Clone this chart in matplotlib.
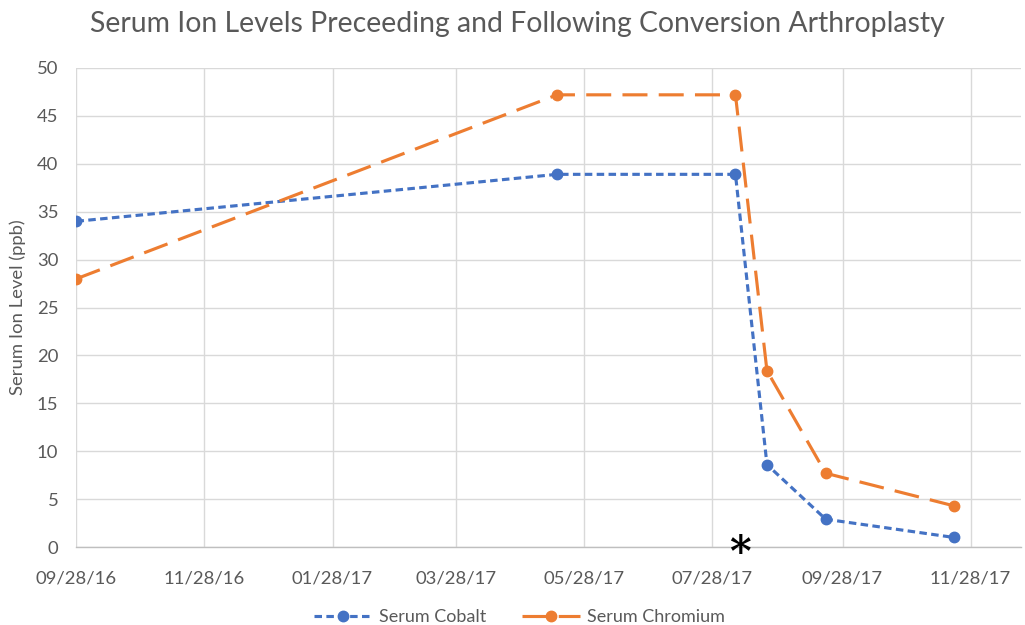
import matplotlib.pyplot as plt
import matplotlib.dates as mdates
import numpy as np
import pandas as pd

# dữ liệu
dates = pd.to_datetime(['2016-09-28', '2017-05-15', '2017-08-08',
                        '2017-08-23', '2017-09-20', '2017-11-20'])
cobalt = [34.0, 38.9, 38.9, 8.6, 2.9, 1.0]
chromium = [28.0, 47.2, 47.2, 18.4, 7.7, 4.3]
tick_dates = pd.to_datetime(['2016-09-28', '2016-11-28', '2017-01-28', '2017-03-28',
                             '2017-05-28', '2017-07-28', '2017-09-28', '2017-11-28'])
conversion_date = pd.Timestamp('2017-08-10')

plt.rcParams['font.family'] = ['Lato', 'DejaVu Sans']

grey_text = '#595959'
blue = '#4472C4'
orange = '#ED7D31'

fig = plt.figure(figsize=(10.25, 6.25), dpi=100)
ax = fig.add_axes([0.0746, 0.1248, 0.9214, 0.7664])

ax.plot(dates, cobalt, color=blue, lw=2.25, dashes=(2.4, 1.4),
        marker='o', markersize=7.5, label='Serum Cobalt', zorder=3)
ax.plot(dates, chromium, color=orange, lw=2.25, dashes=(8, 3.6),
        marker='o', markersize=7.5, label='Serum Chromium', zorder=3)

ax.set_xlim(pd.Timestamp('2016-09-28'), pd.Timestamp('2017-12-22'))
ax.set_ylim(0, 50)
ax.set_yticks(np.arange(0, 51, 5))
ax.set_xticks(tick_dates)
ax.xaxis.set_major_formatter(mdates.DateFormatter('%m/%d/%y'))

ax.grid(True, color='#D9D9D9', lw=1)
ax.set_axisbelow(True)
for s in ['top', 'right', 'left']:
    ax.spines[s].set_visible(False)
ax.spines['bottom'].set_color('#BFBFBF')
ax.spines['bottom'].set_linewidth(1)
ax.tick_params(length=0, labelsize=13.3, colors=grey_text)
ax.tick_params(axis='x', pad=17)
ax.tick_params(axis='y', pad=13)

ax.set_ylabel('Serum Ion Level (ppb)', fontsize=13.3, color=grey_text, labelpad=8)

fig.text(0.505, 0.962, 'Serum Ion Levels Preceeding and Following Conversion Arthroplasty',
         ha='center', va='center', fontsize=20.4, color=grey_text)

# dấu * đánh dấu ngày phẫu thuật
ax.text(conversion_date, -0.75, '*', ha='center', va='center', fontsize=30,
        fontweight='bold', color='black', clip_on=False, family='DejaVu Serif')

leg = fig.legend(loc='center', bbox_to_anchor=(0.507, 0.013), ncol=2, frameon=False,
                 fontsize=13, handlelength=3.2, columnspacing=2.0, handletextpad=0.4)
for t in leg.get_texts():
    t.set_color(grey_text)

plt.savefig('out.png', dpi=100)
plt.close()
